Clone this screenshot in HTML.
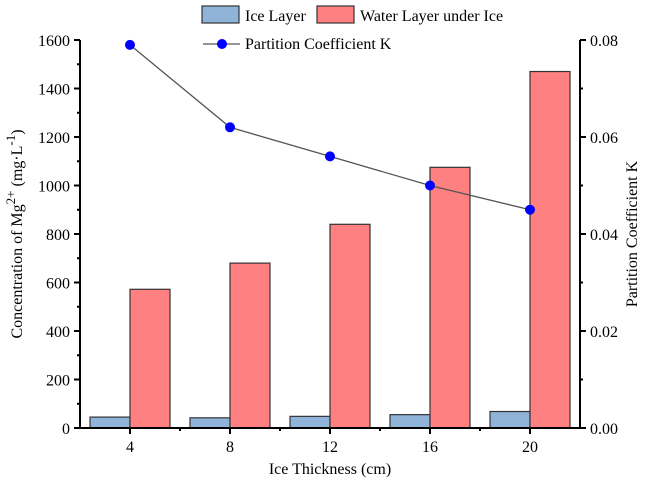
<!DOCTYPE html>
<html><head><meta charset="utf-8"><style>
body{margin:0;background:#fff}
svg text{font-family:"Liberation Serif",serif;fill:#000}
</style></head><body>
<svg id="c" width="645" height="483" xmlns="http://www.w3.org/2000/svg" font-family="Liberation Serif, serif"></svg>
<script>
const categories=[4,8,12,16,20];
const iceLayer=[45,42,48,55,68];
const waterLayer=[572,680,840,1075,1470];
const partitionK=[0.079,0.062,0.056,0.050,0.045];
const leftTicks=[0,200,400,600,800,1000,1200,1400,1600];
const rightTicks=["0.00","0.02","0.04","0.06","0.08"];
const svg=document.getElementById('c');
const NS='http://www.w3.org/2000/svg';
const L=80,R=580,T=40,B=428;
const x=v=>L+(v-2)/20*(R-L);
const yL=v=>B-v/1600*(B-T);
const yR=v=>B-v/0.08*(B-T);
function el(t,a,name,txt){const e=document.createElementNS(NS,t);for(const k in a)e.setAttribute(k,a[k]);


if(t==='text')e.setAttribute('font-family','Liberation Serif, serif');
if(txt!==undefined)e.textContent=txt;svg.appendChild(e);return e;}
const bw=40;
categories.forEach((c,i)=>{
el('rect',{x:x(c)-bw,y:yL(iceLayer[i]),width:bw,height:B-yL(iceLayer[i]),fill:'#8fb3d9',stroke:'#333','stroke-width':1.2},'ice-bar-'+c);
el('rect',{x:x(c),y:yL(waterLayer[i]),width:bw,height:B-yL(waterLayer[i]),fill:'#ff8080',stroke:'#333','stroke-width':1.2},'water-bar-'+c);
});
let pts=categories.map((c,i)=>x(c)+','+yR(partitionK[i])).join(' ');
el('polyline',{points:pts,fill:'none',stroke:'#555','stroke-width':1.3},'k-line');
categories.forEach((c,i)=>el('circle',{cx:x(c),cy:yR(partitionK[i]),r:5,fill:'#0000ff'},'k-point-'+c));
el('line',{x1:L,y1:T,x2:L,y2:B,stroke:'#000','stroke-width':2},'left-axis');
el('line',{x1:R,y1:T,x2:R,y2:B,stroke:'#000','stroke-width':2},'right-axis');
el('line',{x1:L-1,y1:B,x2:R+1,y2:B,stroke:'#000','stroke-width':2},'x-axis');
leftTicks.forEach(v=>{el('line',{x1:L-6,y1:yL(v),x2:L,y2:yL(v),stroke:'#000','stroke-width':2},'left-tick');
el('text',{x:L-10,y:yL(v)+6,'text-anchor':'end','font-size':16},'left-tick-label',v);
if(v<1600)el('line',{x1:L-3,y1:yL(v+100),x2:L,y2:yL(v+100),stroke:'#000','stroke-width':2},'left-minor-tick');});
rightTicks.forEach(v=>{const y=yR(+v);el('line',{x1:R,y1:y,x2:R+6,y2:y,stroke:'#000','stroke-width':2},'right-tick');
el('text',{x:R+10,y:y+6,'font-size':16},'right-tick-label',v);
if(+v<0.08)el('line',{x1:R,y1:yR(+v+0.01),x2:R+3,y2:yR(+v+0.01),stroke:'#000','stroke-width':2},'right-minor-tick');});
categories.forEach(c=>{el('line',{x1:x(c),y1:B,x2:x(c),y2:B+6,stroke:'#000','stroke-width':2},'x-tick');
el('text',{x:x(c),y:B+24,'text-anchor':'middle','font-size':16},'x-tick-label',c);});
[6,10,14,18].forEach(c=>el('line',{x1:x(c),y1:B,x2:x(c),y2:B+3,stroke:'#000','stroke-width':2},'x-minor-tick'));
el('text',{x:330,y:474,'text-anchor':'middle','font-size':16},'x-axis-title','Ice Thickness (cm)');
const yt=el('text',{transform:'translate(22,234) rotate(-90)','text-anchor':'middle','font-size':16},'y-axis-title');
yt.innerHTML='Concentration of Mg<tspan dy="-7" font-size="13">2+</tspan><tspan dy="7"> (mg·L</tspan><tspan dy="-7" font-size="13">-1</tspan><tspan dy="7">)</tspan>';
el('text',{transform:'translate(637,234) rotate(-90)','text-anchor':'middle','font-size':16},'right-axis-title','Partition Coefficient K');
el('rect',{x:202,y:6,width:37,height:17,fill:'#8fb3d9',stroke:'#333','stroke-width':1.2},'legend-ice-swatch');
el('text',{x:245,y:21,'font-size':16},'legend-ice-label','Ice Layer');
el('rect',{x:317,y:6,width:37,height:17,fill:'#ff8080',stroke:'#333','stroke-width':1.2},'legend-water-swatch');
el('text',{x:360,y:21,'font-size':16},'legend-water-label','Water Layer under Ice');
el('line',{x1:203,y1:44,x2:240,y2:44,stroke:'#555','stroke-width':1.3},'legend-k-line');
el('circle',{cx:222,cy:44,r:5,fill:'#0000ff'},'legend-k-marker');
el('text',{x:245,y:49,'font-size':16},'legend-k-label','Partition Coefficient K');
</script>
</body></html>
